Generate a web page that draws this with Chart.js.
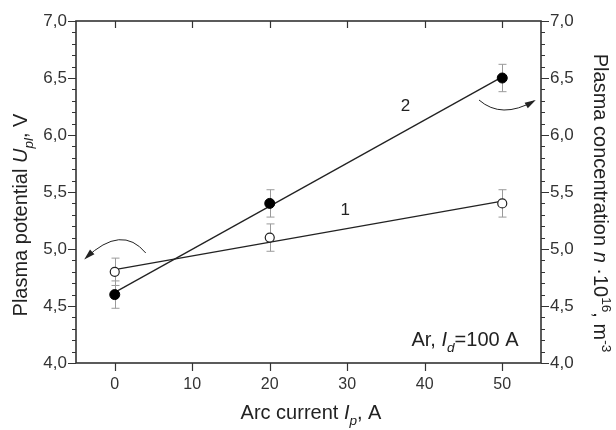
<!DOCTYPE html>
<html>
<head>
<meta charset="utf-8">
<script src="https://cdn.jsdelivr.net/npm/chart.js@4.4.1/dist/chart.umd.min.js"></script>
<style>
  html, body { margin: 0; background: #fff; }
</style>
</head>
<body>
<canvas id="chart" width="616" height="430"></canvas>
<script>
const arcCurrent = [0, 20, 50];
// curve 1 (open circles) - plasma potential, left axis
const potential = [4.8, 5.1, 5.4];
const potentialErr = [0.12, 0.12, 0.12];
// curve 2 (filled circles) - plasma concentration, right axis
const concentration = [4.6, 5.4, 6.5];
const concentrationErr = [0.12, 0.12, 0.12];
// straight fit lines
const fitX = [0, 50];
const fit1 = [4.82, 5.42];
const fit2 = [4.62, 6.51];
const xTicks = [0, 10, 20, 30, 40, 50];

const FONT = '"Liberation Sans", Arial, sans-serif';
const INK = '#222';

function pts(xs, ys) {
  return xs.map((v, i) => ({ x: v, y: ys[i] }));
}

// draws text made of normal / italic / sub / sup pieces, centred on x
function rich(ctx, parts, x, y, rot, size) {
  ctx.save();
  ctx.translate(x, y);
  ctx.rotate(rot);
  const fontOf = p => (p.i ? 'italic ' : '') + ((p.sub || p.sup) ? size * 0.68 : size) + 'px ' + FONT;
  let w = 0;
  parts.forEach(p => { ctx.font = fontOf(p); p.w = ctx.measureText(p.t).width; w += p.w; });
  let cx = -w / 2;
  ctx.fillStyle = INK;
  ctx.textAlign = 'left';
  ctx.textBaseline = 'alphabetic';
  parts.forEach(p => {
    ctx.font = fontOf(p);
    const dy = p.sub ? size * 0.28 : p.sup ? -size * 0.42 : 0;
    ctx.fillText(p.t, cx, dy);
    cx += p.w;
  });
  ctx.restore();
  return w;
}

function arrow(ctx, x, y, a, b, c) {
  const p0 = [x.getPixelForValue(a[0]), y.getPixelForValue(a[1])];
  const p1 = [x.getPixelForValue(b[0]), y.getPixelForValue(b[1])];
  const p2 = [x.getPixelForValue(c[0]), y.getPixelForValue(c[1])];
  ctx.beginPath();
  ctx.moveTo(p0[0], p0[1]);
  ctx.quadraticCurveTo(p1[0], p1[1], p2[0], p2[1]);
  ctx.stroke();
  const ang = Math.atan2(p2[1] - p1[1], p2[0] - p1[0]);
  const L = 9, W = 3.2;
  ctx.beginPath();
  ctx.moveTo(p2[0] + Math.cos(ang) * 2, p2[1] + Math.sin(ang) * 2);
  ctx.lineTo(p2[0] - Math.cos(ang) * L - Math.sin(ang) * W, p2[1] - Math.sin(ang) * L + Math.cos(ang) * W);
  ctx.lineTo(p2[0] - Math.cos(ang) * L + Math.sin(ang) * W, p2[1] - Math.sin(ang) * L - Math.cos(ang) * W);
  ctx.closePath();
  ctx.fill();
}

const decor = {
  id: 'decor',
  beforeDatasetsDraw(chart) {
    const { ctx, scales: { x, y, y2 } } = chart;
    ctx.save();
    ctx.strokeStyle = '#9a9a9a';
    ctx.lineWidth = 1;
    const bar = (sc, xv, v, e) => {
      const px = Math.round(x.getPixelForValue(xv)) + 0.5;
      const t = sc.getPixelForValue(v + e), b = sc.getPixelForValue(v - e);
      ctx.beginPath();
      ctx.moveTo(px, t); ctx.lineTo(px, b);
      ctx.moveTo(px - 4, t); ctx.lineTo(px + 4, t);
      ctx.moveTo(px - 4, b); ctx.lineTo(px + 4, b);
      ctx.stroke();
    };
    arcCurrent.forEach((xv, i) => {
      bar(y, xv, potential[i], potentialErr[i]);
      bar(y2, xv, concentration[i], concentrationErr[i]);
    });
    ctx.restore();
  },
  afterDraw(chart) {
    const { ctx, chartArea: a, scales: { x, y } } = chart;
    ctx.save();
    ctx.strokeStyle = '#333';
    ctx.fillStyle = INK;
    ctx.lineWidth = 1.6;
    ctx.strokeRect(a.left, a.top, a.right - a.left, a.bottom - a.top);

    // x ticks: outward at bottom, inward at top
    ctx.beginPath();
    xTicks.forEach(v => {
      const px = Math.round(x.getPixelForValue(v)) + 0.5;
      ctx.moveTo(px, a.bottom); ctx.lineTo(px, a.bottom + 8);
      ctx.moveTo(px, a.top); ctx.lineTo(px, a.top + 7);
    });
    // y ticks: majors every 0.5, minors every 0.1, outward on both sides
    for (let k = 0; k <= 30; k++) {
      const v = y.min + k * 0.1;
      const py = Math.round(y.getPixelForValue(v)) + 0.5;
      const len = k % 5 === 0 ? 8 : 4;
      ctx.moveTo(a.left, py); ctx.lineTo(a.left - len, py);
      ctx.moveTo(a.right, py); ctx.lineTo(a.right + len, py);
    }
    ctx.lineWidth = 1.2;
    ctx.stroke();

    // axis titles
    rich(ctx, [{ t: 'Plasma potential ' }, { t: 'U', i: true }, { t: 'pl', i: true, sub: true }, { t: ', V' }],
      27, 215, -Math.PI / 2, 20);
    rich(ctx, [{ t: 'Plasma concentration ' }, { t: 'n', i: true }, { t: ' \u00b710' }, { t: '16', sup: true },
      { t: ', m' }, { t: '-3', sup: true }], 594, 203, Math.PI / 2, 20);
    rich(ctx, [{ t: 'Arc current ' }, { t: 'I', i: true }, { t: 'p', i: true, sub: true }, { t: ', A' }],
      311, 419, 0, 20);

    // annotation in the lower right corner
    rich(ctx, [{ t: 'Ar, ' }, { t: 'I', i: true }, { t: 'd', i: true, sub: true }, { t: '=100 A' }],
      465, y.getPixelForValue(4.15), 0, 20);

    // curve numbers
    ctx.font = '17px ' + FONT;
    ctx.textAlign = 'center';
    ctx.textBaseline = 'middle';
    ctx.fillText('1', x.getPixelForValue(29.75), y.getPixelForValue(5.34));
    ctx.fillText('2', x.getPixelForValue(37.5), y.getPixelForValue(6.25));

    // arrows pointing to the axis each curve belongs to
    ctx.lineWidth = 1;
    ctx.strokeStyle = INK;
    arrow(ctx, x, y, [4.0, 4.965], [0.9, 5.22], [-3.75, 4.92]);
    arrow(ctx, x, y, [47.0, 6.307], [49.9, 6.136], [54.1, 6.298]);
    ctx.restore();
  }
};

const comma = v => Number(v).toFixed(1).replace('.', ',');
const xFont = { family: FONT, size: 16 };
const yFont = { family: FONT, size: 17 };

new Chart(document.getElementById('chart'), {
  type: 'scatter',
  data: {
    datasets: [
      {
        data: pts(fitX, fit1),
        showLine: true,
        borderColor: INK,
        borderWidth: 1.3,
        pointRadius: 0,
        yAxisID: 'y',
        order: 4
      },
      {
        data: pts(fitX, fit2),
        showLine: true,
        borderColor: INK,
        borderWidth: 1.3,
        pointRadius: 0,
        yAxisID: 'y2',
        order: 3
      },
      {
        data: pts(arcCurrent, potential),
        pointRadius: 4.5,
        pointBackgroundColor: '#fff',
        pointBorderColor: INK,
        pointBorderWidth: 1.2,
        yAxisID: 'y',
        order: 2
      },
      {
        data: pts(arcCurrent, concentration),
        pointRadius: 5,
        pointBackgroundColor: '#000',
        pointBorderColor: '#000',
        pointBorderWidth: 1,
        yAxisID: 'y2',
        order: 1
      }
    ]
  },
  options: {
    responsive: false,
    animation: false,
    layout: { padding: { top: 21 } },
    plugins: { legend: { display: false }, tooltip: { enabled: false } },
    scales: {
      x: {
        type: 'linear',
        min: -5,
        max: 55,
        afterBuildTicks: s => { s.ticks = xTicks.map(v => ({ value: v })); },
        afterFit: s => { s.height = 67; },
        grid: { display: false, drawTicks: false },
        border: { display: false },
        ticks: { font: xFont, color: '#333', padding: 12, maxRotation: 0 }
      },
      y: {
        position: 'left',
        min: 4,
        max: 7,
        afterFit: s => { s.width = 76; },
        grid: { display: false, drawTicks: false },
        border: { display: false },
        ticks: { stepSize: 0.5, font: yFont, color: '#333', padding: 9, callback: comma }
      },
      y2: {
        position: 'right',
        min: 4,
        max: 7,
        afterFit: s => { s.width = 75; },
        grid: { display: false, drawTicks: false },
        border: { display: false },
        ticks: { stepSize: 0.5, font: yFont, color: '#333', padding: 9, callback: comma }
      }
    }
  },
  plugins: [decor]
});
</script>
</body>
</html>
